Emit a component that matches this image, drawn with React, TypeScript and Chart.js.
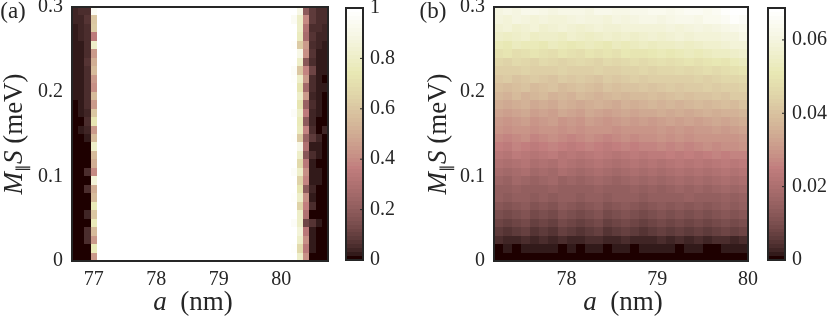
import React, { useEffect, useRef } from "react";
import { Chart, registerables } from "chart.js";
Chart.register(...registerables);

// ---------------- DATA ----------------
// rows: M_parallel S (meV), cell centres (30 rows, 0.01 tall)
const msRows = [0.005, 0.015, 0.025, 0.035, 0.045, 0.055, 0.065, 0.075, 0.085, 0.095,
  0.105, 0.115, 0.125, 0.135, 0.145, 0.155, 0.165, 0.175, 0.185, 0.195,
  0.205, 0.215, 0.225, 0.235, 0.245, 0.255, 0.265, 0.275, 0.285, 0.295];

// panel (a): column centres a (nm)
const aCols = [76.7, 76.8, 76.9, 77.0, 77.1, 77.2, 77.3, 77.4, 77.5, 77.6, 77.7, 77.8, 77.9,
  78.0, 78.1, 78.2, 78.3, 78.4, 78.5, 78.6, 78.7, 78.8, 78.9, 79.0, 79.1, 79.2, 79.3, 79.4,
  79.5, 79.6, 79.7, 79.8, 79.9, 80.0, 80.1, 80.2, 80.3, 80.4, 80.5, 80.6, 80.7];
// panel (a) columns that are not saturated (bottom -> top)
const a767 = [0, 0, 0, 0, 0, 0, 0, 0, 0, 0, 0, 0, 0, 0, 0.005, 0.01, 0.005, 0, 0.01, 0.025, 0.03, 0.025, 0.025, 0.025, 0.025, 0.025, 0.03, 0.03, 0.04, 0.04];
const a768 = [0, 0, 0, 0, 0, 0, 0, 0, 0, 0, 0, 0, 0.005, 0, 0.01, 0.02, 0.01, 0.02, 0.03, 0.03, 0.03, 0.03, 0.025, 0.03, 0.03, 0.03, 0.035, 0.04, 0.045, 0.05];
const a769 = [0, 0, 0.05, 0.05, 0.01, 0.04, 0, 0, 0.05, 0.01, 0.06, 0.01, 0, 0.01, 0.03, 0.04, 0.05, 0.04, 0.05, 0.06, 0.05, 0.06, 0.05, 0.07, 0.06, 0.05, 0.06, 0.05, 0.07, 0.06];
const a770 = [0.45, 0.75, 0.45, 0.55, 0.75, 0.6, 0.75, 0.55, 0.5, 0.85, 0.4, 0.5, 0.55, 0.8, 0.55, 0.45, 0.72, 0.6, 0.45, 0.55, 0.42, 0.45, 0.55, 0.5, 0.45, 0.8, 0.35, 0.62, 0.6, 0.95];
const a802 = [1, 0.97, 1, 1, 0.96, 1, 1, 0.97, 1, 1, 0.96, 1, 1, 1, 0.97, 1, 1, 0.96, 1, 1, 1, 0.97, 0.96, 1, 1, 0.97, 1, 1, 0.95, 1];
const a803 = [0.8, 0.68, 0.8, 0.85, 0.8, 0.8, 0.65, 0.8, 0.72, 0.65, 0.8, 0.68, 0.8, 0.9, 0.62, 0.78, 0.75, 0.8, 0.72, 0.8, 0.72, 0.8, 0.6, 0.8, 0.9, 0.62, 0.78, 0.8, 0.8, 0.9];
const a804 = [0.42, 0.34, 0.42, 0.34, 0.12, 0.3, 0.36, 0.42, 0.2, 0.38, 0.42, 0.33, 0.18, 0.3, 0.22, 0.38, 0.2, 0.35, 0.22, 0.45, 0.25, 0.45, 0.38, 0.18, 0.42, 0.45, 0.28, 0.3, 0.4, 0.2];
const a805 = [0.01, 0.03, 0.02, 0.03, 0.07, 0.01, 0.05, 0.02, 0.04, 0.03, 0.03, 0.03, 0.05, 0.03, 0.08, 0.05, 0.04, 0.04, 0.05, 0.04, 0.05, 0.06, 0.12, 0.05, 0.07, 0.06, 0.07, 0.06, 0.08, 0.08];
const a806 = [0, 0.01, 0, 0, 0.02, 0, 0.01, 0, 0.01, 0.03, 0.02, 0.01, 0.02, 0.03, 0.04, 0, 0.01, 0.02, 0.02, 0.03, 0.03, 0.02, 0.03, 0.03, 0.03, 0.04, 0.04, 0.05, 0.05, 0.06];
const a807 = [0, 0, 0, 0, 0, 0, 0, 0, 0, 0, 0, 0, 0.01, 0, 0, 0.04, 0, 0, 0.01, 0.01, 0.02, 0.01, 0.02, 0.02, 0.03, 0.03, 0.04, 0.04, 0.05, 0.05];
const aSaturated = 1; // every other column of panel (a) is white (value 1)
const aProfiles: [number, number[]][] = [
  [76.7, a767], [76.8, a768], [76.9, a769], [77.0, a770],
  [80.2, a802], [80.3, a803], [80.4, a804], [80.5, a805], [80.6, a806], [80.7, a807],
];
const aTicksX = [77, 78, 79, 80];
const aTicksC = [0, 0.2, 0.4, 0.6, 0.8, 1];

// panel (b): column centres a (nm)
const bCols = [77.25, 77.35, 77.45, 77.55, 77.65, 77.75, 77.85, 77.95, 78.05, 78.15, 78.25,
  78.35, 78.45, 78.55, 78.65, 78.75, 78.85, 78.95, 79.05, 79.15, 79.25, 79.35, 79.45, 79.55,
  79.65, 79.75, 79.85, 79.95];
// panel (b) values, rows bottom -> top
const bVals: number[][] = [
  [0.001, 0, 0.0008, 0.0008, 0.0008, 0.0005, 0, 0, 0, 0.0008, 0.0005, 0, 0.0008, 0.0005, 0.0005, 0, 0.0008, 0.0008, 0, 0, 0, 0, 0, 0, 0, 0.0005, 0, 0.0008],
  [0.0005, 0.002, 0.001, 0.0015, 0.002, 0.002, 0.0015, 0.0005, 0.002, 0.001, 0.0015, 0.002, 0.001, 0.002, 0.0015, 0.001, 0.002, 0.002, 0.0015, 0.002, 0.001, 0.0015, 0.002, 0.0005, 0.001, 0.002, 0.0015, 0.002],
  [0.0035, 0.003, 0.0025, 0.004, 0.003, 0.0035, 0.003, 0.004, 0.003, 0.0025, 0.0035, 0.004, 0.003, 0.0025, 0.0035, 0.003, 0.0025, 0.003, 0.004, 0.003, 0.0035, 0.003, 0.004, 0.003, 0.0035, 0.004, 0.003, 0.0035],
  [0.006, 0.005, 0.006, 0.007, 0.005, 0.006, 0.005, 0.007, 0.006, 0.005, 0.006, 0.007, 0.005, 0.006, 0.007, 0.006, 0.005, 0.006, 0.007, 0.006, 0.007, 0.006, 0.007, 0.006, 0.007, 0.008, 0.007, 0.008],
  [0.008, 0.007, 0.008, 0.009, 0.007, 0.008, 0.007, 0.009, 0.008, 0.007, 0.008, 0.009, 0.007, 0.008, 0.009, 0.008, 0.007, 0.008, 0.009, 0.008, 0.009, 0.008, 0.009, 0.008, 0.009, 0.010, 0.009, 0.010],
  [0.010, 0.009, 0.010, 0.011, 0.009, 0.010, 0.009, 0.011, 0.010, 0.009, 0.010, 0.011, 0.009, 0.010, 0.011, 0.010, 0.009, 0.010, 0.011, 0.010, 0.011, 0.010, 0.011, 0.010, 0.011, 0.012, 0.011, 0.012],
  [0.012, 0.011, 0.012, 0.013, 0.011, 0.012, 0.011, 0.013, 0.012, 0.011, 0.012, 0.013, 0.011, 0.012, 0.013, 0.012, 0.011, 0.012, 0.013, 0.012, 0.013, 0.012, 0.013, 0.012, 0.013, 0.014, 0.013, 0.014],
  [0.014, 0.013, 0.014, 0.015, 0.013, 0.014, 0.013, 0.015, 0.014, 0.013, 0.014, 0.015, 0.013, 0.014, 0.015, 0.014, 0.013, 0.014, 0.015, 0.014, 0.015, 0.016, 0.015, 0.014, 0.015, 0.016, 0.015, 0.016],
  [0.015, 0.014, 0.016, 0.015, 0.014, 0.015, 0.016, 0.014, 0.015, 0.014, 0.015, 0.016, 0.015, 0.014, 0.015, 0.016, 0.015, 0.016, 0.015, 0.016, 0.017, 0.016, 0.017, 0.016, 0.017, 0.018, 0.017, 0.018],
  [0.017, 0.016, 0.018, 0.017, 0.016, 0.017, 0.018, 0.016, 0.017, 0.016, 0.017, 0.018, 0.017, 0.016, 0.017, 0.018, 0.017, 0.018, 0.017, 0.018, 0.019, 0.018, 0.019, 0.018, 0.019, 0.020, 0.019, 0.020],
  [0.019, 0.018, 0.019, 0.020, 0.018, 0.019, 0.018, 0.020, 0.019, 0.018, 0.019, 0.020, 0.019, 0.018, 0.019, 0.020, 0.019, 0.020, 0.019, 0.020, 0.021, 0.020, 0.021, 0.020, 0.021, 0.022, 0.021, 0.022],
  [0.021, 0.020, 0.021, 0.022, 0.020, 0.021, 0.020, 0.022, 0.021, 0.020, 0.021, 0.022, 0.021, 0.020, 0.021, 0.022, 0.021, 0.022, 0.021, 0.022, 0.023, 0.022, 0.023, 0.022, 0.023, 0.024, 0.023, 0.024],
  [0.023, 0.022, 0.024, 0.023, 0.022, 0.023, 0.024, 0.022, 0.023, 0.022, 0.023, 0.024, 0.023, 0.022, 0.023, 0.024, 0.023, 0.024, 0.024, 0.025, 0.024, 0.025, 0.024, 0.025, 0.026, 0.025, 0.026, 0.026],
  [0.025, 0.024, 0.026, 0.025, 0.024, 0.025, 0.026, 0.025, 0.024, 0.025, 0.026, 0.025, 0.024, 0.025, 0.026, 0.025, 0.026, 0.026, 0.027, 0.026, 0.027, 0.026, 0.027, 0.028, 0.027, 0.028, 0.028, 0.029],
  [0.027, 0.026, 0.027, 0.028, 0.026, 0.027, 0.028, 0.027, 0.026, 0.027, 0.028, 0.027, 0.026, 0.027, 0.028, 0.027, 0.028, 0.028, 0.029, 0.028, 0.029, 0.028, 0.029, 0.030, 0.029, 0.030, 0.030, 0.031],
  [0.029, 0.028, 0.030, 0.029, 0.028, 0.029, 0.030, 0.028, 0.029, 0.028, 0.029, 0.030, 0.029, 0.028, 0.029, 0.030, 0.029, 0.030, 0.031, 0.030, 0.031, 0.030, 0.031, 0.031, 0.032, 0.031, 0.032, 0.033],
  [0.031, 0.030, 0.031, 0.032, 0.030, 0.031, 0.032, 0.030, 0.031, 0.030, 0.032, 0.031, 0.030, 0.031, 0.032, 0.031, 0.032, 0.031, 0.032, 0.033, 0.032, 0.033, 0.032, 0.033, 0.034, 0.033, 0.034, 0.035],
  [0.033, 0.032, 0.033, 0.034, 0.032, 0.033, 0.032, 0.034, 0.033, 0.032, 0.034, 0.033, 0.032, 0.033, 0.034, 0.033, 0.034, 0.034, 0.035, 0.034, 0.035, 0.034, 0.035, 0.036, 0.035, 0.036, 0.036, 0.037],
  [0.035, 0.034, 0.035, 0.036, 0.034, 0.035, 0.034, 0.036, 0.035, 0.034, 0.035, 0.036, 0.035, 0.034, 0.036, 0.035, 0.036, 0.037, 0.036, 0.037, 0.036, 0.037, 0.038, 0.037, 0.038, 0.039, 0.038, 0.040],
  [0.037, 0.036, 0.038, 0.036, 0.037, 0.038, 0.036, 0.037, 0.036, 0.038, 0.037, 0.036, 0.037, 0.038, 0.037, 0.038, 0.038, 0.039, 0.038, 0.039, 0.040, 0.039, 0.040, 0.040, 0.041, 0.040, 0.042, 0.042],
  [0.039, 0.038, 0.039, 0.040, 0.038, 0.039, 0.040, 0.038, 0.039, 0.040, 0.039, 0.038, 0.040, 0.039, 0.040, 0.040, 0.041, 0.040, 0.041, 0.042, 0.041, 0.042, 0.042, 0.043, 0.042, 0.043, 0.044, 0.045],
  [0.041, 0.042, 0.040, 0.041, 0.042, 0.041, 0.040, 0.042, 0.041, 0.042, 0.041, 0.040, 0.042, 0.041, 0.042, 0.043, 0.042, 0.043, 0.043, 0.044, 0.043, 0.044, 0.045, 0.044, 0.045, 0.046, 0.046, 0.047],
  [0.044, 0.043, 0.044, 0.045, 0.043, 0.044, 0.043, 0.045, 0.044, 0.043, 0.044, 0.045, 0.044, 0.044, 0.045, 0.045, 0.046, 0.045, 0.046, 0.046, 0.047, 0.046, 0.047, 0.048, 0.047, 0.048, 0.049, 0.050],
  [0.046, 0.045, 0.047, 0.046, 0.045, 0.047, 0.046, 0.045, 0.046, 0.047, 0.046, 0.045, 0.047, 0.046, 0.047, 0.048, 0.047, 0.048, 0.049, 0.048, 0.049, 0.050, 0.049, 0.050, 0.051, 0.050, 0.052, 0.053],
  [0.049, 0.050, 0.048, 0.049, 0.050, 0.049, 0.048, 0.050, 0.049, 0.048, 0.050, 0.049, 0.050, 0.049, 0.051, 0.050, 0.050, 0.051, 0.052, 0.051, 0.052, 0.053, 0.052, 0.053, 0.054, 0.054, 0.055, 0.056],
  [0.052, 0.051, 0.053, 0.052, 0.052, 0.051, 0.053, 0.052, 0.051, 0.052, 0.053, 0.052, 0.051, 0.053, 0.052, 0.053, 0.054, 0.053, 0.054, 0.054, 0.055, 0.054, 0.055, 0.056, 0.056, 0.057, 0.058, 0.059],
  [0.055, 0.054, 0.055, 0.056, 0.054, 0.055, 0.055, 0.054, 0.056, 0.055, 0.054, 0.055, 0.056, 0.055, 0.056, 0.055, 0.056, 0.057, 0.056, 0.057, 0.058, 0.057, 0.058, 0.058, 0.059, 0.060, 0.060, 0.062],
  [0.057, 0.058, 0.056, 0.057, 0.058, 0.056, 0.057, 0.058, 0.057, 0.056, 0.057, 0.058, 0.057, 0.057, 0.058, 0.059, 0.058, 0.058, 0.059, 0.060, 0.059, 0.060, 0.061, 0.060, 0.061, 0.062, 0.063, 0.064],
  [0.060, 0.059, 0.061, 0.060, 0.059, 0.060, 0.058, 0.059, 0.060, 0.061, 0.060, 0.060, 0.059, 0.061, 0.060, 0.061, 0.062, 0.062, 0.061, 0.062, 0.063, 0.063, 0.062, 0.064, 0.064, 0.065, 0.067, 0.066],
  [0.061, 0.062, 0.061, 0.063, 0.063, 0.062, 0.061, 0.062, 0.062, 0.062, 0.061, 0.063, 0.063, 0.062, 0.062, 0.063, 0.063, 0.064, 0.064, 0.063, 0.064, 0.065, 0.065, 0.064, 0.065, 0.067, 0.068, 0.068],
];
const bTicksX = [78, 79, 80];
const bTicksC = [0, 0.02, 0.04, 0.06];
const msTicks = [0, 0.1, 0.2, 0.3];

// ---------------- STYLE / LAYOUT ----------------
const W = 830;
const H = 361;
const OY = 20; // canvases start 20px above the page top
const FONT = "'Liberation Serif', 'Times New Roman', serif";
const INK = "#262626";
const TICK_SIZE = 20;
const TITLE_SIZE = 27;

function pinkColor(t: number): string {
  const m = 64;
  let i = Math.floor(t * m);
  if (i < 0) i = 0;
  if (i > m - 1) i = m - 1;
  const n = Math.floor((3 / 8) * m);
  const hr = i < n ? (i + 1) / n : 1;
  const hg = i < n ? 0 : i < 2 * n ? (i - n + 1) / n : 1;
  const hb = i < 2 * n ? 0 : (i - 2 * n + 1) / (m - 2 * n);
  const g = i / (m - 1);
  const c = (h: number) => Math.round(Math.sqrt((2 * g + h) / 3) * 255);
  return `rgb(${c(hr)},${c(hg)},${c(hb)})`;
}

type Seg = { t: string; italic?: boolean; size: number; dy?: number };
function drawRich(ctx: CanvasRenderingContext2D, segs: Seg[], x: number, y: number, rotate: boolean) {
  ctx.save();
  ctx.translate(x, y);
  if (rotate) ctx.rotate(-Math.PI / 2);
  ctx.textBaseline = "alphabetic";
  ctx.textAlign = "left";
  ctx.fillStyle = INK;
  const fontOf = (s: Seg) => `${s.italic ? "italic " : ""}${s.size}px ${FONT}`;
  const widths = segs.map((s) => {
    ctx.font = fontOf(s);
    return ctx.measureText(s.t).width;
  });
  let cx = -widths.reduce((a, b) => a + b, 0) / 2;
  segs.forEach((s, i) => {
    ctx.font = fontOf(s);
    ctx.fillText(s.t, cx, s.dy || 0);
    cx += widths[i];
  });
  ctx.restore();
}

type Cell = { x0: number; x1: number; y0: number; y1: number; v: number };

// shared cell edges: midpoints between neighbouring centres
function edgesOf(c: number[], w: number): number[] {
  const e = [c[0] - w / 2];
  for (let i = 1; i < c.length; i++) e.push((c[i - 1] + c[i]) / 2);
  e.push(c[c.length - 1] + w / 2);
  return e;
}

function heatConfig(p: {
  cells: Cell[]; cmin: number; cmax: number; xMin: number; xMax: number; xTicks: number[];
  padLeft: number; yAxisW: number; padRight: number; panel: string; panelX: number;
  yTitleX: number; xTitleX: number;
}): any {
  const plugin = {
    id: "heat" + p.panel,
    beforeDatasetsDraw(chart: any) {
      const { ctx, chartArea, scales } = chart;
      const xs = scales.x, ys = scales.y;
      ctx.save();
      ctx.beginPath();
      ctx.rect(chartArea.left, chartArea.top, chartArea.width, chartArea.height);
      ctx.clip();
      for (const c of p.cells) {
        const px0 = Math.round(xs.getPixelForValue(c.x0));
        const px1 = Math.round(xs.getPixelForValue(c.x1));
        const py0 = Math.round(ys.getPixelForValue(c.y1));
        const py1 = Math.round(ys.getPixelForValue(c.y0));
        ctx.fillStyle = pinkColor((c.v - p.cmin) / (p.cmax - p.cmin));
        ctx.fillRect(px0, py0, px1 - px0, py1 - py0);
      }
      ctx.restore();
    },
    afterDraw(chart: any) {
      const { ctx, chartArea } = chart;
      ctx.save();
      ctx.strokeStyle = INK;
      ctx.lineWidth = 2;
      ctx.strokeRect(chartArea.left, chartArea.top, chartArea.width, chartArea.height);
      ctx.restore();
      const yc = (chartArea.top + chartArea.bottom) / 2;
      drawRich(ctx, [
        { t: "M", italic: true, size: TITLE_SIZE },
        { t: "\u2225", size: 15, dy: 5 },
        { t: "S", italic: true, size: TITLE_SIZE },
        { t: " (meV)", size: TITLE_SIZE },
      ], p.yTitleX, yc, true);
      drawRich(ctx, [
        { t: "a", italic: true, size: TITLE_SIZE },
        { t: "  (nm)", size: TITLE_SIZE },
      ], p.xTitleX, 310 + OY, false);
      drawRich(ctx, [{ t: p.panel, size: 23 }], p.panelX, 18 + OY, false);
    },
  };
  return {
    type: "scatter",
    data: { datasets: [{ data: [] as any[] }] },
    options: {
      responsive: false,
      animation: false,
      devicePixelRatio: 1,
      events: [],
      layout: { padding: { left: p.padLeft, right: p.padRight, top: 7 + OY, bottom: 0 } },
      plugins: { legend: { display: false }, tooltip: { enabled: false } },
      scales: {
        x: {
          type: "linear", min: p.xMin, max: p.xMax,
          afterBuildTicks: (s: any) => { s.ticks = p.xTicks.map((v) => ({ value: v })); },
          afterFit: (s: any) => { s.height = H - (261 + OY); },
          grid: { display: false, drawTicks: false }, border: { display: false },
          ticks: { font: { family: FONT, size: TICK_SIZE }, color: INK, padding: 7, maxRotation: 0, autoSkip: false, callback: (v: any) => String(v) },
        },
        y: {
          type: "linear", min: 0, max: 0.3,
          afterBuildTicks: (s: any) => { s.ticks = msTicks.map((v) => ({ value: v })); },
          afterFit: (s: any) => { s.width = p.yAxisW; },
          grid: { display: false, drawTicks: false }, border: { display: false },
          ticks: { font: { family: FONT, size: TICK_SIZE }, color: INK, padding: 9, autoSkip: false, callback: (v: any) => String(v) },
        },
      },
    },
    plugins: [plugin],
  };
}

function colorbarConfig(p: { cmin: number; cmax: number; ticks: number[]; left: number; right: number; id: string }): any {
  const plugin = {
    id: "cb" + p.id,
    beforeDatasetsDraw(chart: any) {
      const { ctx, chartArea, scales } = chart;
      const ys = scales.y;
      const m = 64;
      for (let k = 0; k < m; k++) {
        const v0 = p.cmin + (k / m) * (p.cmax - p.cmin);
        const v1 = p.cmin + ((k + 1) / m) * (p.cmax - p.cmin);
        const top = Math.round(ys.getPixelForValue(v1));
        const bot = Math.round(ys.getPixelForValue(v0));
        ctx.fillStyle = pinkColor((k + 0.5) / m);
        ctx.fillRect(chartArea.left, top, chartArea.width, bot - top);
      }
      ctx.save();
      ctx.strokeStyle = INK;
      ctx.lineWidth = 1;
      for (const t of p.ticks) {
        const y = ys.getPixelForValue(t);
        ctx.beginPath();
        ctx.moveTo(chartArea.right - 3, y);
        ctx.lineTo(chartArea.right, y);
        ctx.stroke();
      }
      ctx.lineWidth = 2;
      ctx.strokeRect(chartArea.left, chartArea.top, chartArea.width, chartArea.height);
      ctx.restore();
    },
  };
  return {
    type: "scatter",
    data: { datasets: [{ data: [] as any[] }] },
    options: {
      responsive: false,
      animation: false,
      devicePixelRatio: 1,
      events: [],
      layout: { padding: { left: p.left, right: 0, top: 8 + OY, bottom: H - (260 + OY) } },
      plugins: { legend: { display: false }, tooltip: { enabled: false } },
      scales: {
        x: { type: "linear", display: false, min: 0, max: 1 },
        y: {
          type: "linear", position: "right", min: p.cmin, max: p.cmax,
          afterBuildTicks: (s: any) => { s.ticks = p.ticks.map((v) => ({ value: v })); },
          afterFit: (s: any) => { s.width = W - p.right; },
          grid: { display: false, drawTicks: false }, border: { display: false },
          ticks: { font: { family: FONT, size: TICK_SIZE }, color: INK, padding: 7, autoSkip: false, callback: (v: any) => String(v) },
        },
      },
    },
    plugins: [plugin],
  };
}

function buildCellsA(): Cell[] {
  const cells: Cell[] = [];
  const xe = edgesOf(aCols, 0.1);
  const ye = edgesOf(msRows, 0.01);
  aCols.forEach((x, i) => {
    const prof = aProfiles.find((q) => Math.abs(q[0] - x) < 1e-6);
    msRows.forEach((_y, j) => {
      cells.push({ x0: xe[i], x1: xe[i + 1], y0: ye[j], y1: ye[j + 1], v: prof ? prof[1][j] : aSaturated });
    });
  });
  return cells;
}

function buildCellsB(): Cell[] {
  const cells: Cell[] = [];
  const xe = edgesOf(bCols, 0.1);
  const ye = edgesOf(msRows, 0.01);
  bVals.forEach((row, j) => {
    row.forEach((v, i) => {
      cells.push({ x0: xe[i], x1: xe[i + 1], y0: ye[j], y1: ye[j + 1], v });
    });
  });
  return cells;
}

export default function App() {
  const r1 = useRef<HTMLCanvasElement>(null);
  const r2 = useRef<HTMLCanvasElement>(null);
  const r3 = useRef<HTMLCanvasElement>(null);
  const r4 = useRef<HTMLCanvasElement>(null);
  useEffect(() => {
    const charts: Chart[] = [];
    charts.push(new Chart(r1.current!, heatConfig({
      cells: buildCellsA(), cmin: 0, cmax: 1, xMin: 76.65, xMax: 80.75, xTicks: aTicksX,
      padLeft: 0, yAxisW: 72, padRight: W - 328, panel: "(a)", panelX: 13, yTitleX: 22, xTitleX: 193,
    })));
    charts.push(new Chart(r2.current!, colorbarConfig({ cmin: 0, cmax: 1, ticks: aTicksC, left: 346, right: 363, id: "a" })));
    charts.push(new Chart(r3.current!, heatConfig({
      cells: buildCellsB(), cmin: 0, cmax: 0.0687, xMin: 77.2, xMax: 80.0, xTicks: bTicksX,
      padLeft: 420, yAxisW: 74, padRight: W - 748, panel: "(b)", panelX: 433, yTitleX: 446, xTitleX: 623,
    })));
    charts.push(new Chart(r4.current!, colorbarConfig({ cmin: 0, cmax: 0.0687, ticks: bTicksC, left: 768, right: 785, id: "b" })));
    return () => charts.forEach((c) => c.destroy());
  }, []);
  const cs: React.CSSProperties = { position: "absolute", left: 0, top: -OY, width: W, height: H };
  return (
    <div style={{ position: "fixed", left: 0, top: 0, width: W, height: 321, overflow: "hidden", background: "#fff" }}>
      <canvas ref={r1} width={W} height={H} style={cs} />
      <canvas ref={r2} width={W} height={H} style={cs} />
      <canvas ref={r3} width={W} height={H} style={cs} />
      <canvas ref={r4} width={W} height={H} style={cs} />
    </div>
  );
}
